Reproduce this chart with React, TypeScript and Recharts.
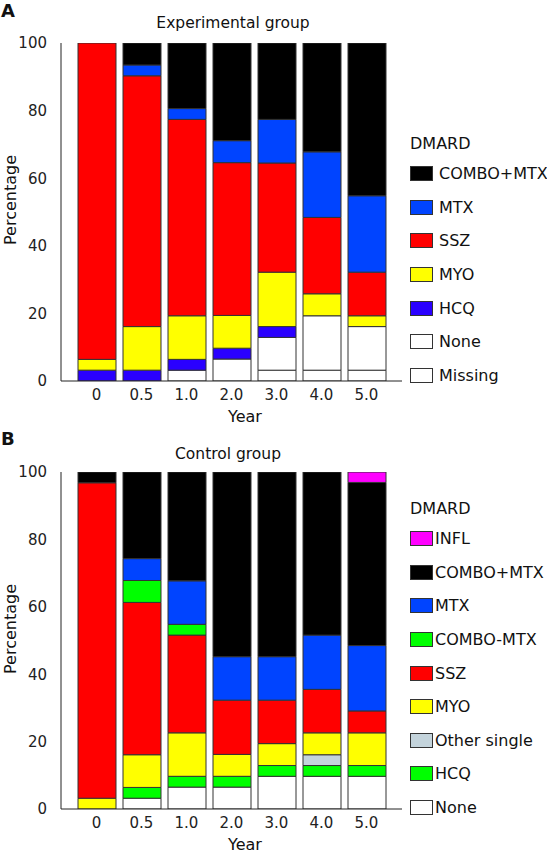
import React from 'react';
import { BarChart, Bar, XAxis, YAxis } from 'recharts';

const years = ['0', '0.5', '1.0', '2.0', '3.0', '4.0', '5.0'];
const yTicks = [0, 20, 40, 60, 80, 100];

// Panel A – Experimental group (segment sizes, %)
const aMissing = [0, 0, 3.2, 0, 3.2, 3.2, 3.2];
const aNone = [0, 0, 0, 6.5, 9.7, 16.1, 12.9];
const aHcq = [3.2, 3.2, 3.2, 3.2, 3.2, 0, 0];
const aMyo = [3.2, 12.9, 12.9, 9.7, 16.1, 6.5, 3.2];
const aSsz = [93.6, 74.2, 58.1, 45.2, 32.3, 22.6, 12.9];
const aMtx = [0, 3.2, 3.2, 6.5, 12.9, 19.4, 22.6];
const aCombo = [0, 6.5, 19.4, 29.0, 22.6, 32.3, 45.2];

// Panel B – Control group (segment sizes, %)
const bNone = [0, 3.2, 6.5, 6.5, 9.7, 9.7, 9.7];
const bHcq = [0, 3.2, 3.2, 3.2, 3.2, 3.2, 3.2];
const bOther = [0, 0, 0, 0, 0, 3.2, 0];
const bMyo = [3.2, 9.7, 12.9, 6.5, 6.5, 6.5, 9.7];
const bSsz = [93.6, 45.2, 29.0, 16.1, 12.9, 12.9, 6.5];
const bComboMinus = [0, 6.5, 3.2, 0, 0, 0, 0];
const bMtx = [0, 6.5, 12.9, 12.9, 12.9, 16.1, 19.4];
const bCombo = [3.2, 25.8, 32.3, 54.8, 54.8, 48.4, 48.4];
const bInfl = [0, 0, 0, 0, 0, 0, 3.2];

const FONT = '"DejaVu Sans", sans-serif';
const STROKE = '#333';

type Series = { key: string; name: string; color: string; values: number[] };

const seriesA: Series[] = [
  { key: 'missing', name: 'Missing', color: '#ffffff', values: aMissing },
  { key: 'none', name: 'None', color: '#ffffff', values: aNone },
  { key: 'hcq', name: 'HCQ', color: '#2a00ff', values: aHcq },
  { key: 'myo', name: 'MYO', color: '#ffff00', values: aMyo },
  { key: 'ssz', name: 'SSZ', color: '#ff0000', values: aSsz },
  { key: 'mtx', name: 'MTX', color: '#0044ff', values: aMtx },
  { key: 'combo', name: 'COMBO+MTX', color: '#000000', values: aCombo },
];

const seriesB: Series[] = [
  { key: 'none', name: 'None', color: '#ffffff', values: bNone },
  { key: 'hcq', name: 'HCQ', color: '#00ff00', values: bHcq },
  { key: 'other', name: 'Other single', color: '#c4d4dc', values: bOther },
  { key: 'myo', name: 'MYO', color: '#ffff00', values: bMyo },
  { key: 'ssz', name: 'SSZ', color: '#ff0000', values: bSsz },
  { key: 'comboMinus', name: 'COMBO-MTX', color: '#00ff00', values: bComboMinus },
  { key: 'mtx', name: 'MTX', color: '#0044ff', values: bMtx },
  { key: 'combo', name: 'COMBO+MTX', color: '#000000', values: bCombo },
  { key: 'infl', name: 'INFL', color: '#ff00ff', values: bInfl },
];

const buildRows = (series: Series[]) =>
  years.map((y, i) => {
    const row: Record<string, any> = { year: y };
    series.forEach((s) => {
      row[s.key] = s.values[i];
    });
    return row;
  });

const LegendBox = ({ series, textGap, left, top }: { series: Series[]; textGap: number; left: number; top: number }) => (
  <div style={{ position: 'absolute', left, top, fontFamily: FONT, fontSize: 16, color: '#111', whiteSpace: 'nowrap' }}>
    <div style={{ height: 26, lineHeight: '26px' }}>DMARD</div>
    {[...series].reverse().map((s) => (
      <div key={s.key} style={{ display: 'flex', alignItems: 'center', height: 33.6 }}>
        <div
          style={{
            width: 21,
            height: 13,
            background: s.color,
            border: `1px solid ${STROKE}`,
            marginRight: textGap,
            flexShrink: 0,
          }}
        />
        <span>{s.name}</span>
      </div>
    ))}
  </div>
);

type PanelProps = {
  series: Series[];
  height: number;
  marginTop: number;
  marginBottom: number;
};

const Panel = ({ series, height, marginTop, marginBottom }: PanelProps) => {
  const rows = buildRows(series);
  return (
    <BarChart
      width={547}
      height={height}
      data={rows}
      margin={{ top: marginTop, right: 145, bottom: marginBottom, left: 0 }}
      barSize={38}
    >
      <XAxis
        dataKey="year"
        padding={{ left: 13, right: 13 }}
        tickLine={false}
        axisLine={{ stroke: '#222' }}
        tick={{ fontFamily: FONT, fontSize: 15, fill: '#222' }}
        height={30}
        label={{
          content: (p: any) => {
            const vb = p.viewBox || {};
            return (
              <text
                x={245}
                y={(vb.y || 0) + 41}
                textAnchor="middle"
                fontFamily={FONT}
                fontSize={16}
                fill="#111"
              >
                Year
              </text>
            );
          },
        }}
      />
      <YAxis
        width={61}
        domain={[0, 100]}
        ticks={yTicks}
        allowDataOverflow
        tickLine={false}
        tickSize={6}
        tickMargin={8}
        axisLine={{ stroke: '#222' }}
        tick={{ fontFamily: FONT, fontSize: 15, fill: '#222' }}
        label={{
          content: () => (
            <text
              x={16}
              y={marginTop + 157}
              transform={`rotate(-90 16 ${marginTop + 157})`}
              textAnchor="middle"
              fontFamily={FONT}
              fontSize={16}
              fill="#111"
            >
              Percentage
            </text>
          ),
        }}
      />
      {series.map((s) => (
        <Bar
          key={s.key}
          dataKey={s.key}
          name={s.name}
          stackId="a"
          fill={s.color}
          stroke={STROKE}
          strokeWidth={1}
          isAnimationActive={false}
          legendType="none"
        />
      ))}
    </BarChart>
  );
};

const labelStyle: React.CSSProperties = {
  position: 'absolute',
  fontFamily: FONT,
  fontSize: 17,
  color: '#111',
  whiteSpace: 'nowrap',
};

const panelLetter: React.CSSProperties = {
  ...labelStyle,
  fontWeight: 'bold',
  fontSize: 18,
  lineHeight: 1,
};

export default function App() {
  return (
    <div
      style={{
        position: 'absolute',
        left: 0,
        top: 0,
        width: 547,
        height: 853,
        background: '#fff',
        overflow: 'hidden',
      }}
    >
      <div style={{ position: 'absolute', left: 0, top: 0, width: 547, height: 430 }}>
        <Panel series={seriesA} height={430} marginTop={43} marginBottom={19} />
        <LegendBox series={seriesA} textGap={6} left={410} top={131} />
        <div style={{ ...panelLetter, left: 1, top: 2 }}>A</div>
        <div style={{ ...labelStyle, left: 233, top: 14, transform: 'translateX(-50%)', fontSize: 15.5 }}>
          Experimental group
        </div>
      </div>
      <div style={{ position: 'absolute', left: 0, top: 430, width: 547, height: 423 }}>
        <Panel series={seriesB} height={423} marginTop={42} marginBottom={14} />
        <LegendBox series={seriesB} textGap={2} left={410} top={66} />
        <div style={{ ...panelLetter, left: 1, top: 0 }}>B</div>
        <div style={{ ...labelStyle, left: 228, top: 15, transform: 'translateX(-50%)', fontSize: 15.5 }}>
          Control group
        </div>
      </div>
    </div>
  );
}
